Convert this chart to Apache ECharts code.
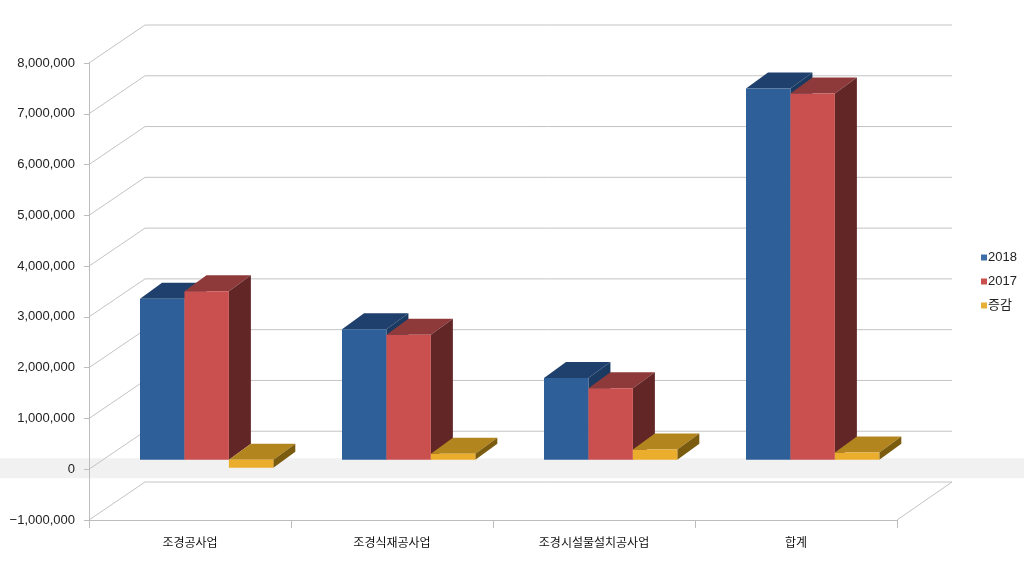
<!DOCTYPE html>
<html>
<head>
<meta charset="utf-8">
<script src="https://cdn.jsdelivr.net/npm/echarts@6/dist/echarts.min.js"></script>
<style>
  html, body { margin: 0; padding: 0; background: #fff; }
  #chart { width: 1024px; height: 563px; }
</style>
</head>
<body>
<div id="chart"></div>
<script>
// categories and values
var categories = ['조경공사업', '조경식재공사업', '조경시설물설치공사업', '합계'];
var values2018 = [3170000, 2570000, 1610000, 7310000];
var values2017 = [3320000, 2460000, 1410000, 7210000];
var valuesDiff = [-160000, 120000, 200000, 140000];
var seriesNames = ['2018', '2017', '증감'];

// y axis ticks
var yMin = -1000000;
var yMax = 8000000;
var yStep = 1000000;
var yTicks = [-1000000, 0, 1000000, 2000000, 3000000, 4000000, 5000000, 6000000, 7000000, 8000000];

// 3d look
var WALL_DX = 56, WALL_DY = -38;   // front plane -> back wall
var BAR_DX = 22, BAR_DY = -16;     // bar depth
var BAR_PLANE_DY = -9.5;           // bars stand a bit behind the front plane
var FONT = "'Liberation Sans', 'Noto Sans CJK KR', sans-serif";

// front / top / side colors per series
var faceColors = [
    { legend: '#3e6ea8', front: '#2f5f98', top: '#1f406c', side: '#1b3a62' },
    { legend: '#c9504f', front: '#c9504f', top: '#8e3a3a', side: '#632627' },
    { legend: '#e6b035', front: '#eaae2c', top: '#b3851e', side: '#7b5c0f' }
];

function fmt(v) {
    var s = Math.abs(v).toString().replace(/\B(?=(\d{3})+(?!\d))/g, ',');
    return v < 0 ? '\u2212' + s : s;
}

/**
 * Walls: back grid lines, left wall diagonals, floor band
 */
function renderWalls(params, api) {
    var cs = params.coordSys;
    var v = api.value(0);
    var y = api.coord([0, v])[1];
    var xL = cs.x, xR = cs.x + cs.width;
    var lineStyle = { stroke: '#c4c4c4', lineWidth: 1 };
    var children = [];

    if (v === 0) {
        children.push({
            type: 'rect',
            shape: { x: 0, y: y - 11, width: api.getWidth(), height: 20 },
            style: { fill: '#f1f1f1' }
        });
    }
    children.push({
        type: 'line',
        shape: { x1: xL, y1: y, x2: xL + WALL_DX, y2: y + WALL_DY },
        style: lineStyle
    });
    children.push({
        type: 'line',
        shape: { x1: xL + WALL_DX, y1: y + WALL_DY, x2: xR + WALL_DX - 1, y2: y + WALL_DY },
        style: lineStyle
    });
    if (v === yMin) {
        children.push({
            type: 'line',
            shape: { x1: xR, y1: y, x2: xR + WALL_DX - 1, y2: y + WALL_DY },
            style: lineStyle
        });
    }
    return { type: 'group', children: children };
}

/**
 * 3d bar: front, top and right side faces
 */
function makeBarRenderer(idx) {
    var c = faceColors[idx];
    return function(params, api) {
        var cat = api.value(0);
        var val = api.value(1);
        var center = api.coord([cat, 0])[0];
        var band = api.size([1, 0])[0];
        var w = band * 0.22;
        var x0 = center - band * 0.2475 + idx * w;
        var x1 = x0 + w;
        var yZero = api.coord([cat, 0])[1] + BAR_PLANE_DY;
        var yVal = api.coord([cat, val])[1] + BAR_PLANE_DY;
        var top = Math.min(yZero, yVal);
        var bot = Math.max(yZero, yVal);

        return {
            type: 'group',
            children: [
                {
                    type: 'polygon',
                    shape: { points: [[x0, top], [x1, top], [x1 + BAR_DX, top + BAR_DY], [x0 + BAR_DX, top + BAR_DY]] },
                    style: { fill: c.top }
                },
                {
                    type: 'polygon',
                    shape: { points: [[x1, top], [x1 + BAR_DX, top + BAR_DY], [x1 + BAR_DX, bot + BAR_DY], [x1, bot]] },
                    style: { fill: c.side }
                },
                {
                    type: 'rect',
                    shape: { x: x0, y: top, width: w, height: bot - top },
                    style: { fill: c.front }
                }
            ]
        };
    };
}

var seriesValues = [values2018, values2017, valuesDiff];

var series = [{
    type: 'custom',
    name: 'walls',
    z: -1,
    silent: true,
    renderItem: renderWalls,
    data: yTicks.map(function(v) { return [v]; })
}];

seriesValues.forEach(function(vals, i) {
    series.push({
        type: 'custom',
        name: seriesNames[i],
        itemStyle: { color: faceColors[i].legend },
        renderItem: makeBarRenderer(i),
        encode: { x: 0, y: 1 },
        data: vals.map(function(v, k) { return [k, v]; })
    });
});

var chart = echarts.init(document.getElementById('chart'));

var option = {
    animation: false,
    backgroundColor: '#fff',
    grid: { left: 89, right: 127, top: 63, bottom: 43 },
    legend: {
        data: seriesNames,
        orient: 'vertical',
        left: 976,
        top: 246,
        itemWidth: 6,
        itemHeight: 6,
        itemGap: 11,
        icon: 'rect',
        textStyle: { fontFamily: FONT, fontSize: 13, color: '#222', padding: [0, 0, 0, -4] }
    },
    xAxis: {
        type: 'category',
        data: categories,
        boundaryGap: true,
        axisLine: { onZero: false, lineStyle: { color: '#bdbdbd' } },
        axisTick: { show: true, length: 8, lineStyle: { color: '#bdbdbd' } },
        axisLabel: { margin: 18, fontFamily: FONT, fontSize: 12, color: '#111' },
        splitLine: { show: false }
    },
    yAxis: {
        type: 'value',
        min: yMin,
        max: yMax,
        interval: yStep,
        axisLine: { show: true, lineStyle: { color: '#bdbdbd' } },
        axisTick: { show: true, length: 5, lineStyle: { color: '#bdbdbd' } },
        axisLabel: {
            margin: 14,
            fontFamily: FONT,
            fontSize: 13,
            color: '#222',
            formatter: function(v) { return fmt(v); }
        },
        splitLine: { show: false }
    },
    series: series
};

chart.setOption(option);

window.addEventListener('resize', function() {
    chart.resize();
});
</script>
</body>
</html>
